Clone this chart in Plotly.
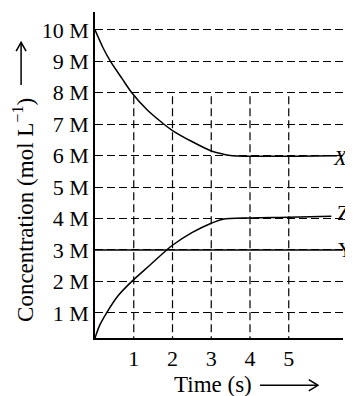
import plotly.graph_objects as go

# curve X (reactant)
time_x = [0, 0.2, 0.4, 0.7, 0.95, 1.35, 1.78, 2.0, 2.5, 3.0, 3.3, 3.55, 6.25]
conc_x = [10, 9.45, 9.0, 8.45, 8.0, 7.45, 7.0, 6.8, 6.45, 6.15, 6.05, 6.0, 6.0]

# curve Z (product)
time_z = [0, 0.12, 0.3, 0.6, 0.95, 1.4, 1.85, 2.0, 2.5, 3.0, 3.3, 4.0, 5.0, 6.1]
conc_z = [0.2, 0.6, 1.0, 1.55, 2.0, 2.5, 3.0, 3.15, 3.55, 3.85, 3.98, 4.02, 4.04, 4.07]

# line Y (constant)
time_y = [0, 6.4]
conc_y = [3, 3]

x_ticks = [1, 2, 3, 4, 5]
y_ticks = [1, 2, 3, 4, 5, 6, 7, 8, 9, 10]
y_labels = [f"{v} M" for v in y_ticks]

font = "Liberation Serif, Times New Roman, serif"

fig = go.Figure()
fig.add_trace(go.Scatter(x=time_x, y=conc_x, mode="lines",
                         line=dict(color="black", width=1.5, shape="spline", smoothing=0.8)))
fig.add_trace(go.Scatter(x=time_z, y=conc_z, mode="lines",
                         line=dict(color="black", width=1.5, shape="spline", smoothing=0.8)))
fig.add_trace(go.Scatter(x=time_y, y=conc_y, mode="lines", line=dict(color="black", width=1.5)))

# vertical dashed lines only reach up to 8 M
for t in x_ticks:
    fig.add_shape(type="line", x0=t, x1=t, y0=0, y1=8, xref="x", yref="y",
                  line=dict(color="black", width=1.2, dash="8px,4px"), layer="below")

# page body has an 8px margin, so the figure is made smaller to fit the window
fig.update_layout(
    width=345, height=388,
    margin=dict(l=87, r=10, t=4, b=58),
    paper_bgcolor="white", plot_bgcolor="white",
    showlegend=False,
    font=dict(family=font, size=22, color="black"),
    xaxis=dict(range=[0, 6.4], tickvals=x_ticks, showgrid=False, zeroline=False,
               showline=True, linecolor="black", linewidth=1.5, ticks=""),
    yaxis=dict(range=[0.2, 10.57], tickvals=y_ticks, ticktext=y_labels, showgrid=True,
               gridcolor="black", gridwidth=1.2, griddash="8px,4px", zeroline=False,
               showline=True, linecolor="black", linewidth=1.5, ticks=""),
)

# end labels (partly cut by the right edge, as in the original)
fig.add_annotation(x=0.952, y=0.552, xref="paper", yref="paper", text="<i>X</i>",
                   showarrow=False, xanchor="left", yanchor="middle", font=dict(size=21))
fig.add_annotation(x=0.968, y=0.382, xref="paper", yref="paper", text="Z",
                   showarrow=False, xanchor="left", yanchor="middle", font=dict(size=21))
fig.add_annotation(x=0.972, y=0.27, xref="paper", yref="paper", text="Y",
                   showarrow=False, xanchor="left", yanchor="middle", font=dict(size=21))

# axis titles with long arrows
fig.add_annotation(x=-0.286, y=0.393, xref="paper", yref="paper",
                   text="Concentration (mol L<sup>−1</sup>)", textangle=-90,
                   showarrow=False, xanchor="center", yanchor="middle", font=dict(size=23))
fig.add_shape(type="line", x0=-0.298, x1=-0.298, y0=0.776, y1=0.905, xref="paper", yref="paper",
              line=dict(color="black", width=1.5))
fig.add_shape(type="path", path="M -0.318,0.88 L -0.298,0.907 L -0.278,0.88", xref="paper", yref="paper",
              line=dict(color="black", width=1.5))

fig.add_annotation(x=0.474, y=-0.142, xref="paper", yref="paper", text="Time (s)",
                   showarrow=False, xanchor="center", yanchor="middle", font=dict(size=23))
fig.add_shape(type="line", x0=0.665, x1=0.895, y0=-0.145, y1=-0.145, xref="paper", yref="paper",
              line=dict(color="black", width=1.5))
fig.add_shape(type="path", path="M 0.862,-0.128 L 0.899,-0.145 L 0.862,-0.162", xref="paper", yref="paper",
              line=dict(color="black", width=1.5))

fig.write_html("out.html")
